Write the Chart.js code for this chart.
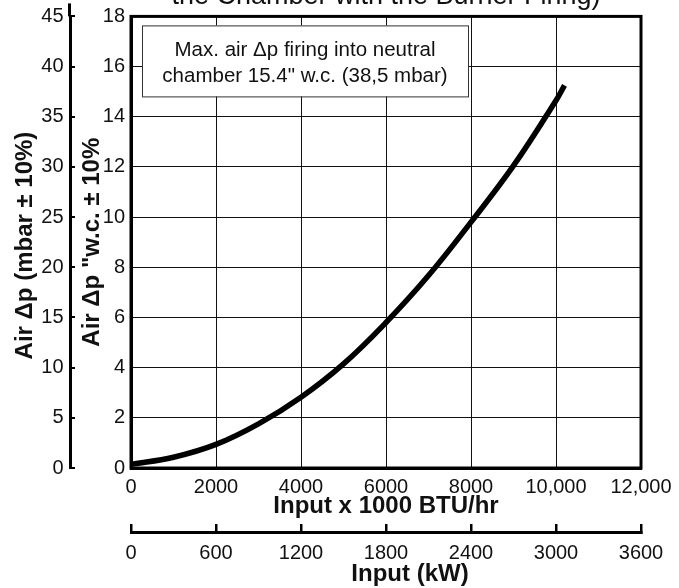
<!DOCTYPE html>
<html>
<head>
<meta charset="utf-8">
<script src="https://cdn.jsdelivr.net/npm/chart.js@4.4.1/dist/chart.umd.min.js"></script>
<style>
  html, body { margin: 0; padding: 0; background: #fff; overflow: hidden; }
  #marco { position: relative; width: 679px; height: 588px; overflow: hidden; }
  #grafica { position: absolute; left: 0; top: -20px; }
</style>
</head>
<body>
<div id="marco"><canvas id="grafica" width="679" height="608"></canvas></div>
<script>
// curva: entrada (x 1000 BTU/hr) y presion de aire ("w.c.)
const entrada = [0, 1000, 2000, 3000, 4000, 5000, 6000, 7000, 8000, 9000, 10000, 10200];
const presion = [0.15, 0.43, 0.94, 1.76, 2.82, 4.15, 5.8, 7.67, 9.8, 12.05, 14.65, 15.25];

const ticksBtu = [0, 2000, 4000, 6000, 8000, 10000, 12000];
const etiquetasBtu = ['0', '2000', '4000', '6000', '8000', '10,000', '12,000'];
const ticksKw = [0, 600, 1200, 1800, 2400, 3000, 3600];
const ticksWc = [0, 2, 4, 6, 8, 10, 12, 14, 16, 18];
const ticksMbar = [0, 5, 10, 15, 20, 25, 30, 35, 40, 45];

const titulo = 'the Chamber with the Burner Firing)';
const nota = ['Max. air \u0394p firing into neutral', 'chamber 15.4" w.c. (38,5 mbar)'];

const fuente = '"Liberation Sans", Arial, Helvetica, sans-serif';
Chart.defaults.font.family = fuente;
Chart.defaults.color = '#111';

const fijar = lista => scale => { scale.ticks = lista.map(v => ({ value: v })); };

const extras = {
  id: 'extras',
  beforeDatasetsDraw(chart) {
    const { ctx, chartArea: a } = chart;
    const x0 = a.left + 11, y0 = a.top + 9, w = 326, h = 71;
    ctx.save();
    ctx.fillStyle = '#fff';
    ctx.fillRect(x0, y0, w, h);
    ctx.strokeStyle = '#333';
    ctx.lineWidth = 1;
    ctx.strokeRect(x0 + 0.5, y0 + 0.5, w, h);
    ctx.fillStyle = '#111';
    ctx.font = '20.5px ' + fuente;
    ctx.textAlign = 'center';
    ctx.textBaseline = 'alphabetic';
    ctx.fillText(nota[0], x0 + w / 2, y0 + 31);
    ctx.fillText(nota[1], x0 + w / 2, y0 + 57);
    ctx.restore();
  },
  afterDatasetsDraw(chart) {
    const { ctx, chartArea: a, scales } = chart;
    ctx.save();
    ctx.strokeStyle = '#000';
    ctx.lineWidth = 3;
    ctx.strokeRect(a.left, a.top, a.right - a.left, a.bottom - a.top);
    // el eje mbar sube un poco por encima del grafico
    const xm = Math.round(scales.y2.right) - 0.5;
    ctx.beginPath();
    ctx.moveTo(xm, a.top);
    ctx.lineTo(xm, a.top - 13);
    ctx.stroke();
    ctx.restore();
  }
};

const ctx = document.getElementById('grafica').getContext('2d');
new Chart(ctx, {
  type: 'line',
  data: {
    datasets: [{
      data: entrada.map((v, i) => ({ x: v, y: presion[i] })),
      borderColor: '#000',
      borderWidth: 5.5,
      pointRadius: 0,
      tension: 0.4,
      fill: false
    }]
  },
  options: {
    responsive: false,
    devicePixelRatio: 1,
    animation: false,
    layout: { padding: { left: 0, right: 38, top: 0, bottom: 0 } },
    plugins: {
      legend: { display: false },
      tooltip: { enabled: false },
      title: {
        display: true,
        text: titulo,
        fullSize: false,
        font: { size: 27, weight: 'normal', lineHeight: 1.2 },
        color: '#111',
        padding: { top: 0, bottom: 4 }
      }
    },
    scales: {
      x: {
        type: 'linear', position: 'bottom', weight: 0,
        min: 0, max: 12000,
        afterBuildTicks: fijar(ticksBtu),
        ticks: {
          font: { size: 20 }, padding: 7, maxRotation: 0, autoSkip: false,
          callback: v => etiquetasBtu[ticksBtu.indexOf(v)]
        },
        grid: { color: '#111', lineWidth: 1, drawTicks: false },
        border: { color: '#000', width: 3 },
        title: {
          display: true, text: 'Input x 1000 BTU/hr',
          font: { size: 24, weight: 'bold', lineHeight: 1.2 },
          padding: { top: 0, bottom: 11 }
        },
        afterFit: s => { s.height = 64; s.paddingLeft = 0; s.paddingRight = 0; }
      },
      x2: {
        type: 'linear', position: 'bottom', weight: 1,
        min: 0, max: 3600,
        afterBuildTicks: fijar(ticksKw),
        ticks: {
          font: { size: 20 }, padding: 17, maxRotation: 0, autoSkip: false,
          callback: v => String(v)
        },
        grid: { drawOnChartArea: false, drawTicks: true, tickLength: -8, color: '#000', lineWidth: 2.5 },
        border: { color: '#000', width: 3 },
        title: {
          display: true, text: '\u2002\u2002\u2002\u2002Input (kW)',
          font: { size: 24, weight: 'bold', lineHeight: 1.2 },
          padding: { top: 0, bottom: -1 }
        },
        afterFit: s => { s.height = 56; s.paddingLeft = 0; s.paddingRight = 0; }
      },
      y: {
        type: 'linear', position: 'left', weight: 0,
        min: 0, max: 18,
        afterBuildTicks: fijar(ticksWc),
        ticks: { font: { size: 20 }, padding: 6, autoSkip: false },
        grid: { color: '#111', lineWidth: 1, drawTicks: false },
        border: { color: '#000', width: 3 },
        title: {
          display: true, text: 'Air \u0394p "w.c. \u00b1 10%',
          font: { size: 24, weight: 'bold', lineHeight: 1.2 },
          padding: { top: 7.6, bottom: 0 }
        },
        afterFit: s => { s.width = 61; }
      },
      y2: {
        type: 'linear', position: 'left', weight: 1,
        min: 0, max: 45,
        afterBuildTicks: fijar(ticksMbar),
        ticks: { font: { size: 20 }, padding: 11.5, autoSkip: false },
        grid: { drawOnChartArea: false, drawTicks: true, tickLength: -5, color: '#000', lineWidth: 2 },
        border: { color: '#000', width: 3 },
        title: {
          display: true, text: 'Air \u0394p (mbar \u00b1 10%) ',
          font: { size: 24, weight: 'bold', lineHeight: 1.2 },
          padding: { top: 10.6, bottom: 0 }
        },
        afterFit: s => { s.width = 70; }
      }
    }
  },
  plugins: [extras]
});
</script>
</body>
</html>
